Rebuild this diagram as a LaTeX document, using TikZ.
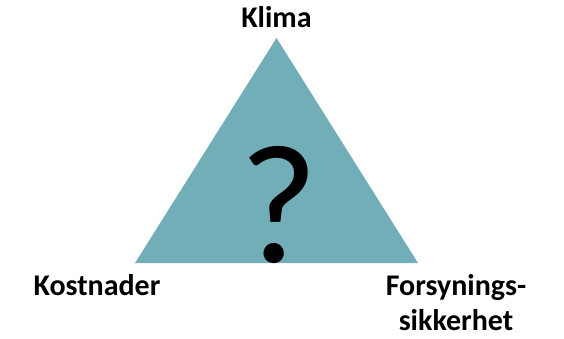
\documentclass[tikz,border=0pt]{standalone}
\usepackage{fontspec}
\setmainfont{Carlito}
\definecolor{triteal}{RGB}{114,174,184}
\begin{document}
\begin{tikzpicture}[
        x=1pt, y=1pt,
        every node/.style={
            font=\fontsize{30}{35}\selectfont\bfseries, inner sep=0pt
        }
    ]
        \useasboundingbox (0,0) rectangle (564,338);

        % Triangle
        \fill[triteal] (276.5,300) -- (135,75) -- (418,75) -- cycle;

        % Question mark
        \node[anchor=base, font=\fontsize{170}{170}\selectfont] (question) at (278.5,76) {?};

        % Corner labels
        \node[anchor=base] (klima) at (276.5,310) {Klima};
        \node[anchor=base] (kost) at (97,43) {Kostnader};
        \node[anchor=base] (forsyn) at (456,43) {Forsynings-};
        \node[anchor=base] (sikker) at (456,8) {sikkerhet};
    \end{tikzpicture}
\end{document}
